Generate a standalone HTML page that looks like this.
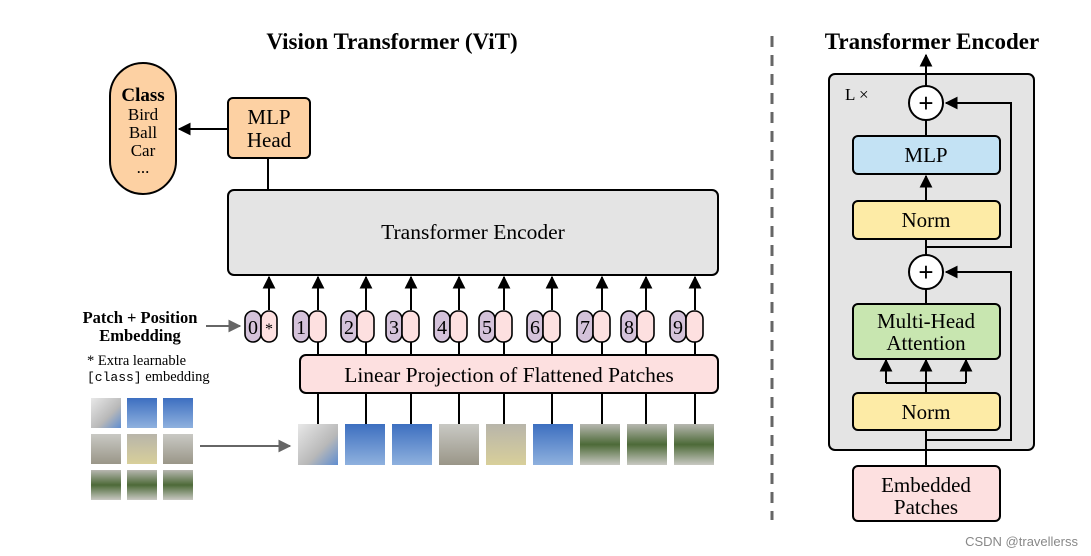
<!DOCTYPE html>
<html><head><meta charset="utf-8"><style>html,body{margin:0;padding:0;background:#fff}svg{display:block}</style></head>
<body>
<svg width="1091" height="556" viewBox="0 0 1091 556" xmlns="http://www.w3.org/2000/svg" font-family="Liberation Serif, serif">
<defs>
<marker id="a" viewBox="0 0 10 10" refX="9" refY="5" markerWidth="6.5" markerHeight="6.5" orient="auto-start-reverse"><path d="M0,0L10,5L0,10z" fill="#000"/></marker>
<marker id="g" viewBox="0 0 10 10" refX="9" refY="5" markerWidth="6.5" markerHeight="6.5" orient="auto"><path d="M0,0L10,5L0,10z" fill="#666"/></marker>
<linearGradient id="sky" x1="0" y1="0" x2="0" y2="1"><stop offset="0" stop-color="#3d6fc0"/><stop offset="1" stop-color="#8fb1de"/></linearGradient>
<linearGradient id="bld" x1="0" y1="0" x2="0" y2="1"><stop offset="0" stop-color="#c9c9c4"/><stop offset="1" stop-color="#9a9688"/></linearGradient>
<linearGradient id="yel" x1="0" y1="0" x2="0" y2="1"><stop offset="0" stop-color="#b8b5aa"/><stop offset="1" stop-color="#d8cf9a"/></linearGradient>
<linearGradient id="grn" x1="0" y1="0" x2="0" y2="1"><stop offset="0" stop-color="#b7b7b0"/><stop offset="0.5" stop-color="#4d6a38"/><stop offset="1" stop-color="#c8c8c2"/></linearGradient>
<linearGradient id="wb" x1="0" y1="0" x2="1" y2="1"><stop offset="0" stop-color="#e8e8e8"/><stop offset="0.6" stop-color="#b8b8b8"/><stop offset="1" stop-color="#5f8dd0"/></linearGradient>
</defs>

<text x="392" y="49" font-size="23" font-weight="bold" text-anchor="middle">Vision Transformer (ViT)</text>
<text x="932" y="49" font-size="23" font-weight="bold" text-anchor="middle">Transformer Encoder</text>

<rect x="110" y="63" width="66" height="131" rx="33" fill="#fdd1a3" stroke="#000" stroke-width="2"/>
<text x="143" y="101" font-size="19" font-weight="bold" text-anchor="middle">Class</text>
<text x="143" y="120" font-size="17" text-anchor="middle">Bird</text>
<text x="143" y="138" font-size="17" text-anchor="middle">Ball</text>
<text x="143" y="156" font-size="17" text-anchor="middle">Car</text>
<text x="143" y="173" font-size="17" text-anchor="middle">...</text>

<rect x="228" y="98" width="82" height="60" rx="5" fill="#fdd1a3" stroke="#000" stroke-width="2"/>
<text x="269" y="124" font-size="21" text-anchor="middle">MLP</text>
<text x="269" y="147" font-size="21" text-anchor="middle">Head</text>
<line x1="228" y1="129" x2="179" y2="129" stroke="#000" stroke-width="2" marker-end="url(#a)"/>
<line x1="268" y1="158" x2="268" y2="190" stroke="#000" stroke-width="2"/>

<rect x="228" y="190" width="490" height="85" rx="6" fill="#e4e4e4" stroke="#000" stroke-width="2"/>
<text x="473" y="239" font-size="21.5" text-anchor="middle">Transformer Encoder</text>

<g stroke="#000" stroke-width="2">
<line x1="269" y1="310" x2="269" y2="277" marker-end="url(#a)"/>
<line x1="318" y1="310" x2="318" y2="277" marker-end="url(#a)"/>
<line x1="366" y1="310" x2="366" y2="277" marker-end="url(#a)"/>
<line x1="411" y1="310" x2="411" y2="277" marker-end="url(#a)"/>
<line x1="459" y1="310" x2="459" y2="277" marker-end="url(#a)"/>
<line x1="504" y1="310" x2="504" y2="277" marker-end="url(#a)"/>
<line x1="552" y1="310" x2="552" y2="277" marker-end="url(#a)"/>
<line x1="602" y1="310" x2="602" y2="277" marker-end="url(#a)"/>
<line x1="646" y1="310" x2="646" y2="277" marker-end="url(#a)"/>
<line x1="695" y1="310" x2="695" y2="277" marker-end="url(#a)"/>
<line x1="318" y1="341" x2="318" y2="424"/>
<line x1="366" y1="341" x2="366" y2="424"/>
<line x1="411" y1="341" x2="411" y2="424"/>
<line x1="459" y1="341" x2="459" y2="424"/>
<line x1="504" y1="341" x2="504" y2="424"/>
<line x1="552" y1="341" x2="552" y2="424"/>
<line x1="602" y1="341" x2="602" y2="424"/>
<line x1="646" y1="341" x2="646" y2="424"/>
<line x1="695" y1="341" x2="695" y2="424"/>
</g>

<rect x="300" y="355" width="418" height="38" rx="6" fill="#fde0e0" stroke="#000" stroke-width="2"/>
<text x="509" y="382" font-size="21.5" text-anchor="middle">Linear Projection of Flattened Patches</text>

<g stroke="#000" stroke-width="1.6" font-size="20">
<rect x="245" y="311" width="16" height="31" rx="8" fill="#d4c2da"/><rect x="261" y="311" width="16" height="31" rx="8" fill="#fde0e0"/>
<text x="253" y="334" text-anchor="middle" stroke="none">0</text><text x="269" y="334" text-anchor="middle" stroke="none" font-size="16">*</text>
<rect x="293" y="311" width="16" height="31" rx="8" fill="#d4c2da"/><rect x="309" y="311" width="17" height="31" rx="8" fill="#fde0e0"/><text x="301" y="334" text-anchor="middle" stroke="none">1</text>
<rect x="341" y="311" width="16" height="31" rx="8" fill="#d4c2da"/><rect x="357" y="311" width="17" height="31" rx="8" fill="#fde0e0"/><text x="349" y="334" text-anchor="middle" stroke="none">2</text>
<rect x="386" y="311" width="16" height="31" rx="8" fill="#d4c2da"/><rect x="402" y="311" width="17" height="31" rx="8" fill="#fde0e0"/><text x="394" y="334" text-anchor="middle" stroke="none">3</text>
<rect x="434" y="311" width="16" height="31" rx="8" fill="#d4c2da"/><rect x="450" y="311" width="17" height="31" rx="8" fill="#fde0e0"/><text x="442" y="334" text-anchor="middle" stroke="none">4</text>
<rect x="479" y="311" width="16" height="31" rx="8" fill="#d4c2da"/><rect x="495" y="311" width="17" height="31" rx="8" fill="#fde0e0"/><text x="487" y="334" text-anchor="middle" stroke="none">5</text>
<rect x="527" y="311" width="16" height="31" rx="8" fill="#d4c2da"/><rect x="543" y="311" width="17" height="31" rx="8" fill="#fde0e0"/><text x="535" y="334" text-anchor="middle" stroke="none">6</text>
<rect x="577" y="311" width="16" height="31" rx="8" fill="#d4c2da"/><rect x="593" y="311" width="17" height="31" rx="8" fill="#fde0e0"/><text x="585" y="334" text-anchor="middle" stroke="none">7</text>
<rect x="621" y="311" width="16" height="31" rx="8" fill="#d4c2da"/><rect x="637" y="311" width="17" height="31" rx="8" fill="#fde0e0"/><text x="629" y="334" text-anchor="middle" stroke="none">8</text>
<rect x="670" y="311" width="16" height="31" rx="8" fill="#d4c2da"/><rect x="686" y="311" width="17" height="31" rx="8" fill="#fde0e0"/><text x="678" y="334" text-anchor="middle" stroke="none">9</text>
</g>

<text x="140" y="323" font-size="16.5" font-weight="bold" text-anchor="middle">Patch + Position</text>
<text x="140" y="341" font-size="16.5" font-weight="bold" text-anchor="middle">Embedding</text>
<line x1="206" y1="326" x2="240" y2="326" stroke="#666" stroke-width="2" marker-end="url(#g)"/>
<text x="87" y="365" font-size="14.5">* Extra learnable</text>
<text x="87" y="381" font-size="14.5"><tspan font-family="Liberation Mono, monospace" font-size="13">[class]</tspan> embedding</text>

<rect x="91" y="398" width="30" height="30" fill="url(#wb)"/>
<rect x="127" y="398" width="30" height="30" fill="url(#sky)"/>
<rect x="163" y="398" width="30" height="30" fill="url(#sky)"/>
<rect x="91" y="434" width="30" height="30" fill="url(#bld)"/>
<rect x="127" y="434" width="30" height="30" fill="url(#yel)"/>
<rect x="163" y="434" width="30" height="30" fill="url(#bld)"/>
<rect x="91" y="470" width="30" height="30" fill="url(#grn)"/>
<rect x="127" y="470" width="30" height="30" fill="url(#grn)"/>
<rect x="163" y="470" width="30" height="30" fill="url(#grn)"/>
<line x1="200" y1="446" x2="290" y2="446" stroke="#666" stroke-width="2" marker-end="url(#g)"/>

<rect x="298" y="424" width="40" height="41" fill="url(#wb)"/>
<rect x="345" y="424" width="40" height="41" fill="url(#sky)"/>
<rect x="392" y="424" width="40" height="41" fill="url(#sky)"/>
<rect x="439" y="424" width="40" height="41" fill="url(#bld)"/>
<rect x="486" y="424" width="40" height="41" fill="url(#yel)"/>
<rect x="533" y="424" width="40" height="41" fill="url(#sky)"/>
<rect x="580" y="424" width="40" height="41" fill="url(#grn)"/>
<rect x="627" y="424" width="40" height="41" fill="url(#grn)"/>
<rect x="674" y="424" width="40" height="41" fill="url(#grn)"/>

<line x1="772" y1="36" x2="772" y2="520" stroke="#666" stroke-width="3" stroke-dasharray="11 8"/>

<rect x="829" y="74" width="205" height="376" rx="6" fill="#e4e4e4" stroke="#000" stroke-width="2"/>
<text x="845" y="100" font-size="17">L ×</text>
<g stroke="#000" stroke-width="2" fill="none">
<line x1="926" y1="86" x2="926" y2="55" marker-end="url(#a)"/>
<line x1="926" y1="120" x2="926" y2="136"/>
<line x1="926" y1="239" x2="926" y2="176" marker-end="url(#a)"/>
<line x1="926" y1="239" x2="926" y2="255"/>
<path d="M926,247H1011V103H946" marker-end="url(#a)"/>
<line x1="926" y1="289" x2="926" y2="304"/>
<line x1="926" y1="466" x2="926" y2="383"/>
<path d="M886,383H966"/>
<line x1="886" y1="383" x2="886" y2="360" marker-end="url(#a)"/>
<line x1="926" y1="383" x2="926" y2="360" marker-end="url(#a)"/>
<line x1="966" y1="383" x2="966" y2="360" marker-end="url(#a)"/>
<path d="M926,440H1011V272H946" marker-end="url(#a)"/>
</g>
<circle cx="926" cy="103" r="17" fill="#fff" stroke="#000" stroke-width="2"/>
<text x="926" y="112" font-size="26" text-anchor="middle" font-family="Liberation Sans, sans-serif">+</text>
<circle cx="926" cy="272" r="17" fill="#fff" stroke="#000" stroke-width="2"/>
<text x="926" y="281" font-size="26" text-anchor="middle" font-family="Liberation Sans, sans-serif">+</text>
<rect x="853" y="136" width="147" height="38" rx="5" fill="#c3e2f4" stroke="#000" stroke-width="2"/>
<text x="926" y="162" font-size="21" text-anchor="middle">MLP</text>
<rect x="853" y="201" width="147" height="38" rx="5" fill="#fdeba6" stroke="#000" stroke-width="2"/>
<text x="926" y="227" font-size="21" text-anchor="middle">Norm</text>
<rect x="853" y="304" width="147" height="55" rx="5" fill="#c8e6b0" stroke="#000" stroke-width="2"/>
<text x="926" y="328" font-size="21" text-anchor="middle">Multi-Head</text>
<text x="926" y="350" font-size="21" text-anchor="middle">Attention</text>
<rect x="853" y="393" width="147" height="37" rx="5" fill="#fdeba6" stroke="#000" stroke-width="2"/>
<text x="926" y="419" font-size="21" text-anchor="middle">Norm</text>
<rect x="853" y="466" width="147" height="55" rx="5" fill="#fde0e0" stroke="#000" stroke-width="2"/>
<text x="926" y="492" font-size="21" text-anchor="middle">Embedded</text>
<text x="926" y="514" font-size="21" text-anchor="middle">Patches</text>

<text x="1078" y="546" font-size="13" fill="#888" text-anchor="end" font-family="Liberation Sans, sans-serif">CSDN @travellerss</text>
</svg>
</body></html>
